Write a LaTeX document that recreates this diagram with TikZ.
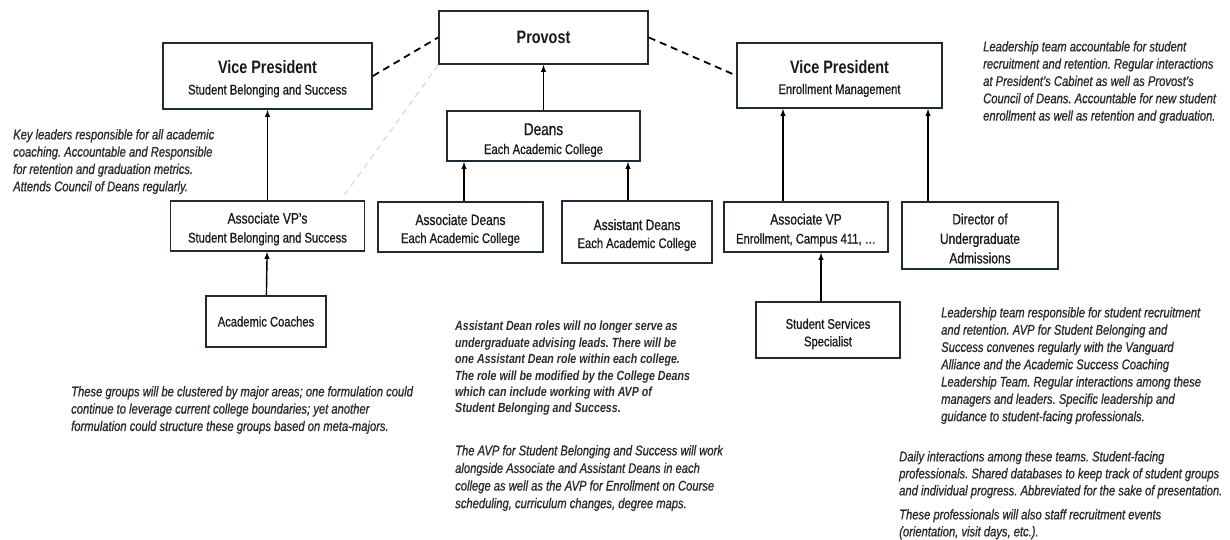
\documentclass[tikz,border=0pt]{standalone}
\usepackage{fontspec}
\setmainfont{Liberation Sans}[FakeStretch=0.8,UprightFeatures={FakeBold=0.8},ItalicFeatures={FakeBold=0.8}]
\usepackage{tikz}
\usetikzlibrary{positioning,calc}
\usetikzlibrary{arrows,shapes}
\definecolor{boxline}{HTML}{1F2A36}
\definecolor{notetext}{HTML}{2B2B2B}
\tikzstyle{block} = [rectangle,align=center,fill=white,draw=boxline,line width=1.8pt,inner sep=0pt,text=black!90,font=\fontsize{14}{19}\selectfont]
\tikzstyle{line} = [-latex,line width=1.4pt]
\tikzstyle{link} = [line width=1.8pt,dash pattern=on 7pt off 5pt]
\tikzstyle{faint} = [line width=1.2pt,black!15,dash pattern=on 6pt off 5pt]
\tikzstyle{note} = [anchor=north west,align=left,inner sep=0pt,text=notetext,font=\fontsize{14}{17.3}\selectfont\itshape]
\newcommand{\headline}[1]{{\fontsize{18}{21}\selectfont\bfseries #1}}
\newcommand{\rolename}[1]{{\fontsize{15}{19}\selectfont #1}}
\newcommand{\padtop}[1]{\rule{0pt}{#1}}

\begin{document}
\frenchspacing
\begin{tikzpicture}[x=1pt,y=-1pt]
        \useasboundingbox[fill=white] (0,0) rectangle (1230,540);
        % top level
        \node[block,minimum width=209pt,minimum height=53pt] (provost) at (543.5,37.5) {\headline{Provost}};
        \node[block,minimum width=209pt,minimum height=66pt,font=\fontsize{14}{21}\selectfont] (vp-sbs) at (267.5,76) {\padtop{19pt}\headline{Vice President}\\Student Belonging and Success};
        \node[block,minimum width=205pt,minimum height=65pt,font=\fontsize{14}{21}\selectfont] (vp-em) at (839.5,75.5) {\padtop{19pt}\headline{Vice President}\\Enrollment Management};
        \path[link] (vp-sbs.east) edge (provost.west)
        (provost.east) edge (vp-em.west);
        \path[faint] (provost.south west) edge ($(provost.south west)!0.97!(340,201)$);
        % deans
        \path[line] node[block,minimum width=193pt,minimum height=50pt] (deans) at (543.5,136) {\padtop{20pt}{\fontsize{17}{19}\selectfont Deans}\\Each Academic College}
        (deans) edge (provost);
        \path[line] node[block,minimum width=165pt,minimum height=50pt,font=\fontsize{14}{18}\selectfont] (assoc-deans) at (460.5,227) {\padtop{17pt}\rolename{Associate Deans}\\Each Academic College}
        ([xshift=3.5pt]assoc-deans.north) edge ([xshift=3.5pt]assoc-deans.north |- deans.south);
        \path[line] node[block,minimum width=150pt,minimum height=62pt,font=\fontsize{14}{18}\selectfont] (asst-deans) at (637,232) {\padtop{17pt}\rolename{Assistant Deans}\\Each Academic College}
        ([xshift=-9pt]asst-deans.north) edge ([xshift=-9pt]asst-deans.north |- deans.south);
        % student belonging and success
        \path[line] node[block,minimum width=194pt,minimum height=50pt] (avps) at (267.5,226) {\padtop{17pt}\rolename{Associate VP's}\\Student Belonging and Success}
        (avps) edge (vp-sbs);
        \path[line] node[block,minimum width=120pt,minimum height=51pt] (coaches) at (266,321.5) {Academic Coaches}
        (coaches) edge (avps);
        % enrollment management
        \path[line] node[block,minimum width=164pt,minimum height=50pt] (avp-em) at (806,227) {\padtop{17pt}\rolename{Associate VP}\\Enrollment, Campus 411, \dots}
        ([xshift=-23pt]avp-em.north) edge ([xshift=-23pt]avp-em.north |- vp-em.south);
        \path[line] node[block,minimum width=156pt,minimum height=67pt,font=\fontsize{15}{19.5}\selectfont] (admissions) at (980,235.5) {\padtop{17pt}Director of\\Undergraduate\\Admissions}
        ([xshift=-52pt]admissions.north) edge ([xshift=-52pt]admissions.north |- vp-em.south);
        \path[line] node[block,minimum width=144pt,minimum height=56pt,font=\fontsize{14}{17.5}\selectfont] (specialist) at (828,330) {\padtop{18pt}Student Services\\Specialist}
        ([xshift=-7pt]specialist.north) edge ([xshift=-7pt]specialist.north |- avp-em.south);
        % notes
        \node[note] (note-key) at (13,129) {Key leaders responsible for all academic\\coaching. Accountable and Responsible\\for retention and graduation metrics.\\Attends Council of Deans regularly.};
        \node[note] (note-lead) at (983,41) {Leadership team accountable for student\\recruitment and retention. Regular interactions\\at President's Cabinet as well as Provost's\\Council of Deans. Accountable for new student\\enrollment as well as retention and graduation.};
        \node[note] (note-groups) at (71,386) {These groups will be clustered by major areas; one formulation could\\continue to leverage current college boundaries; yet another\\formulation could structure these groups based on meta-majors.};
        \node[note,font=\fontsize{13.3}{16.4}\selectfont\bfseries\itshape] (note-asst) at (455,321) {Assistant Dean roles will no longer serve as\\undergraduate advising leads. There will be\\one Assistant Dean role within each college.\\The role will be modified by the College Deans\\which can include working with AVP of\\Student Belonging and Success.};
        \node[note,font=\fontsize{14}{17.6}\selectfont\itshape] (note-avp) at (455,445) {The AVP for Student Belonging and Success will work\\alongside Associate and Assistant Deans in each\\college as well as the AVP for Enrollment on Course\\scheduling, curriculum changes, degree maps.};
        \node[note] (note-team) at (941,307) {Leadership team responsible for student recruitment\\and retention. AVP for Student Belonging and\\Success convenes regularly with the Vanguard\\Alliance and the Academic Success Coaching\\Leadership Team. Regular interactions among these\\managers and leaders. Specific leadership and\\guidance to student-facing professionals.};
        \node[note,font=\fontsize{14}{17}\selectfont\itshape] (note-daily) at (899,451) {Daily interactions among these teams. Student-facing\\professionals. Shared databases to keep track of student groups\\and individual progress. Abbreviated for the sake of presentation.};
        \node[note,font=\fontsize{14}{17}\selectfont\itshape] (note-events) at (899,509) {These professionals will also staff recruitment events\\(orientation, visit days, etc.).};
    \end{tikzpicture}
\end{document}
